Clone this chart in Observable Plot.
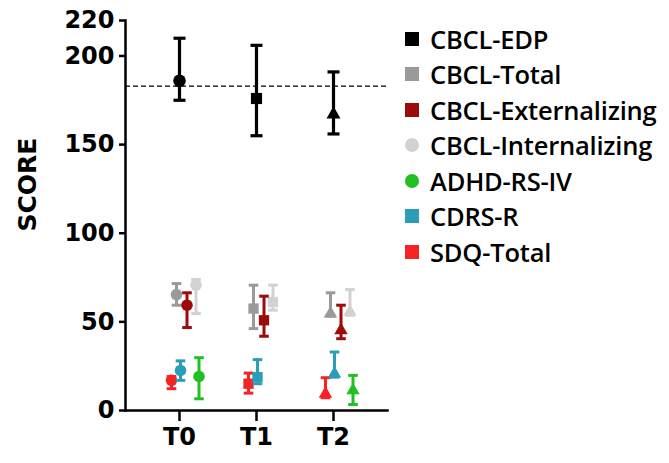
<!DOCTYPE html>
<html>
<head>
<meta charset="utf-8">
<script src="https://cdn.jsdelivr.net/npm/d3@7"></script>
<script src="https://cdn.jsdelivr.net/npm/@observablehq/plot@0.6"></script>
<style>
  body { margin: 0; background: #fff; }
  #wrap { position: relative; width: 669px; height: 463px; }
  #legend { position: absolute; left: 405px; top: 21px; font-family: "Open Sans"; font-weight: 600; font-size: 25.5px; letter-spacing: -0.2px; color: #000; }
  .item { display: flex; align-items: center; height: 35.5px; white-space: nowrap; }
  .sw { width: 14px; height: 14px; margin-right: 11px; flex: none; }
</style>
</head>
<body>
<div id="wrap"></div>
<script>
// Time points and series
const times = ["T0", "T1", "T2"];
const seriesNames = ["CBCL-EDP", "CBCL-Total", "CBCL-Externalizing", "CBCL-Internalizing", "ADHD-RS-IV", "CDRS-R", "SDQ-Total"];
const seriesColors = ["#000000", "#9a9a9a", "#9c0a0a", "#d2d2d2", "#22bf22", "#2a9db8", "#f42424"];
const legendShapes = ["square", "square", "square", "circle", "circle", "square", "square"];

// Each entry: [centre, lower, upper] for T0, T1, T2 (null = not measured)
const cbclEdp = [[186, 175, 210], [176, 155, 206], [167, 156, 191]];
const cbclTotal = [[65.4, 59.4, 71.6], [57.5, 46.2, 70.7], [54.7, 53.2, 66.4]];
const cbclExt = [[59.4, 46.8, 66.4], [50.9, 41.9, 64.5], [45.2, 40.5, 59.4]];
const cbclInt = [[70.7, 54.7, 73.9], [61.2, 56.6, 70.7], [55.7, 53.7, 68.2]];
const adhdRs = [[19.2, 6.6, 29.8], null, [11.3, 3.4, 19.8]];
const cdrsR = [[22.6, 17, 28], [18.8, 15.1, 28.7], [20.7, 18.8, 33]];
const sdqTotal = [[17, 12.3, 19.2], [15.1, 9.8, 21.1], [9.4, 7.2, 18.5]];

// Clinical cut-off line and axis ticks
const cutoff = 183;
const yTicks = [0, 50, 100, 150, 200, 220];

// Marker shape per time point
const timeShapes = ["circle", "square", "triangle"];

// Horizontal dodge (px) of each series around its time point, and paint order
const dodge = [0, -3, 7.5, 16.5, 19.5, 1, -8];
const paintOrder = [3, 1, 2, 6, 5, 4, 0];

const seriesValues = [cbclEdp, cbclTotal, cbclExt, cbclInt, adhdRs, cdrsR, sdqTotal];

function rowsFor(i) {
  const out = [];
  seriesValues[i].forEach((v, t) => {
    if (v) out.push({ series: seriesNames[i], time: times[t], mid: v[0], lo: v[1], hi: v[2] });
  });
  return out;
}

// Flat cap symbol for the error bars
const capSymbol = {
  draw(context, size) {
    const r = Math.sqrt(size / Math.PI);
    context.moveTo(-r, 0);
    context.lineTo(r, 0);
  }
};

const seriesMarks = paintOrder.flatMap(i => {
  const rows = rowsFor(i);
  const color = seriesColors[i];
  const big = i === 0;
  const capR = big ? 6 : 4.8;
  const sw = big ? 3.2 : 3;
  const markerR = { circle: big ? 6.3 : 5.8, square: big ? 6.3 : 5.8, triangle: big ? 5.2 : 5 };
  return [
    Plot.ruleX(rows, { x: "time", y1: "lo", y2: "hi", stroke: color, strokeWidth: sw, dx: dodge[i] }),
    Plot.dot(rows, { x: "time", y: "lo", symbol: capSymbol, r: capR, stroke: color, strokeWidth: sw, fill: "none", dx: dodge[i] }),
    Plot.dot(rows, { x: "time", y: "hi", symbol: capSymbol, r: capR, stroke: color, strokeWidth: sw, fill: "none", dx: dodge[i] }),
    ...times.map((t, k) =>
      Plot.dot(rows, {
        filter: d => d.time === t,
        x: "time", y: "mid", symbol: timeShapes[k], r: markerR[timeShapes[k]],
        fill: color, stroke: "none", dx: dodge[i]
      })
    )
  ];
});

const chart = Plot.plot({
  width: 669,
  height: 463,
  marginLeft: 125,
  marginRight: 282,
  marginTop: 20,
  marginBottom: 53,
  style: { fontFamily: "DejaVu Sans", background: "white", color: "#000" },
  x: { type: "point", domain: times, padding: 0.68 },
  y: { domain: [0, 220] },
  marks: [
    Plot.ruleY([cutoff], { stroke: "#000", strokeWidth: 1.3, strokeDasharray: "5,3" }),
    ...seriesMarks,
    Plot.axisY({ ticks: yTicks, tickSize: 6, tickPadding: 5, fontSize: 24, fontWeight: "bold", strokeWidth: 2.5, label: null }),
    Plot.axisX({ tickSize: 11, tickPadding: 6, fontSize: 24, fontWeight: "bold", strokeWidth: 2.5, label: null }),
    Plot.frame({ anchor: "left", strokeWidth: 2.5 }),
    Plot.frame({ anchor: "bottom", strokeWidth: 2.5 }),
    Plot.text(["SCORE"], { frameAnchor: "left", rotate: -90, dx: -98, dy: 16, fontSize: 25, fontWeight: "bold" })
  ]
});

const wrap = document.getElementById("wrap");
wrap.appendChild(chart);

// Legend to the right of the plot
const legend = document.createElement("div");
legend.id = "legend";
seriesNames.forEach((name, i) => {
  const item = document.createElement("div");
  item.className = "item";
  const sw = document.createElement("span");
  sw.className = "sw";
  sw.style.background = seriesColors[i];
  if (legendShapes[i] === "circle") sw.style.borderRadius = "50%";
  const label = document.createElement("span");
  label.textContent = name;
  item.appendChild(sw);
  item.appendChild(label);
  legend.appendChild(item);
});
wrap.appendChild(legend);
</script>
</body>
</html>
